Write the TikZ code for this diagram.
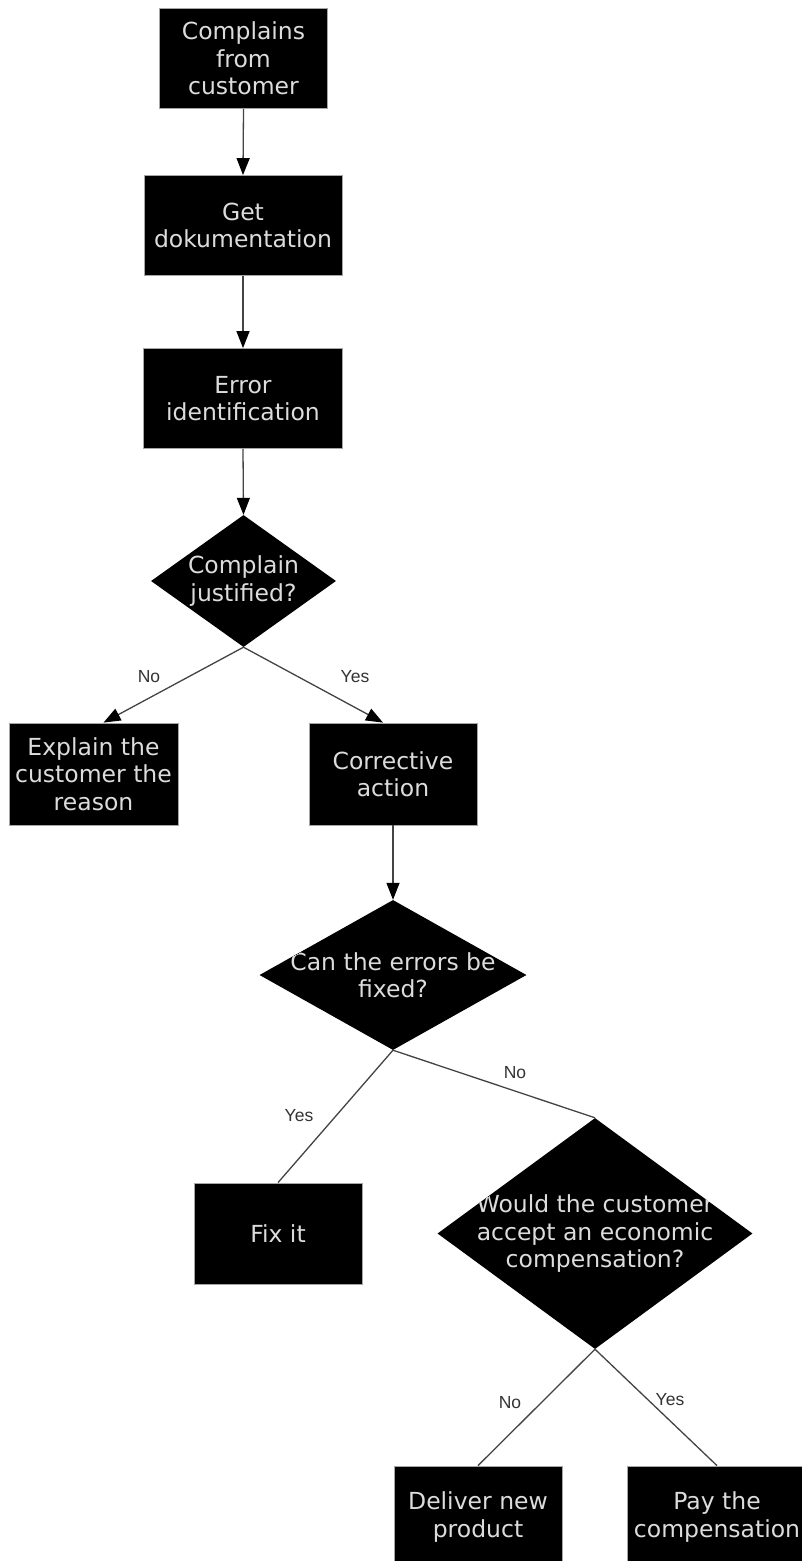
\documentclass[tikz,border=0pt]{standalone}
\usepackage{fontspec}
\setmainfont{DejaVu Sans}
\newfontfamily\labfont{Liberation Sans}
\usetikzlibrary{shapes.geometric,arrows.meta}
\definecolor{txtgray}{HTML}{DCDCDC}
\definecolor{linegray}{HTML}{444444}
\definecolor{labgray}{HTML}{333333}
\tikzset{
  boxnode/.style={draw=gray!70, line width=0.8pt, fill=black, text=txtgray, inner sep=0pt,
    align=center, font=\fontsize{23.5}{27.5}\selectfont},
  dianode/.style={shape=diamond, fill=black, inner sep=0pt},
  diatext/.style={text=txtgray, align=center, font=\fontsize{23.5}{27.5}\selectfont, inner sep=0pt},
  conn/.style={draw=linegray, line width=1.3pt},
  arr/.style={conn, -{Triangle[length=17pt,width=13pt,color=black]}},
  lab/.style={text=labgray, font=\labfont\fontsize{17.5}{20}\selectfont, inner sep=0pt}
}
\begin{document}
\begin{tikzpicture}[x=1pt,y=-1pt]
\clip (0,0) rectangle (802,1561);
\fill[white] (0,0) rectangle (802,1561);

\node[boxnode, minimum width=168pt, minimum height=100pt] (b1) at (243.5,58.5) {Complains\\from\\customer};
\node[boxnode, minimum width=198pt, minimum height=100pt] (b2) at (243,225.5) {Get\\dokumentation};
\node[boxnode, minimum width=199pt, minimum height=100pt] (b3) at (243,398.5) {Error\\identification};

\node[dianode, minimum width=185pt, minimum height=132pt,
  path picture={\node[diatext] at (path picture bounding box.center) {Complain\\justified?};}] (d1) at (243.5,581) {};

\node[boxnode, minimum width=169pt, minimum height=102pt] (b4) at (93.5,774) {Explain the\\customer the\\reason};
\node[boxnode, minimum width=168pt, minimum height=102pt] (b5) at (393,774) {Corrective\\action};

\node[dianode, minimum width=267pt, minimum height=150pt,
  path picture={\node[diatext] at (path picture bounding box.center) {Can the errors be\\fixed?};}] (d2) at (393,975) {};

\node[boxnode, minimum width=168pt, minimum height=101pt] (b6) at (278,1233.5) {Fix it};

\node[dianode, minimum width=315pt, minimum height=231pt,
  path picture={\node[diatext] at (path picture bounding box.center) {Would the customer\\accept an economic\\compensation?};}] (d3) at (595,1233.5) {};

\node[boxnode, minimum width=168pt, minimum height=102pt] (b7) at (478,1517) {Deliver new\\product};
\node[boxnode, minimum width=180pt, minimum height=102pt] (b8) at (717,1517) {Pay the\\compensation};

\draw[arr] (b1.south) -- (b2.north);
\draw[arr] (b2.south) -- (b3.north);
\draw[arr] (b3.south) -- (d1.north);
\draw[arr] (d1.south) -- ([xshift=10pt]b4.north);
\draw[arr] (d1.south) -- ([xshift=-10pt]b5.north);
\draw[arr] (b5.south) -- (d2.north);
\draw[conn] (d2.south) -- (b6.north);
\draw[conn] (d2.south) -- (d3.north);
\draw[conn] (d3.south) -- (b7.north);
\draw[conn] (d3.south) -- (b8.north);

\node[lab] (l1) at (149,677) {No};
\node[lab] (l2) at (355,677) {Yes};
\node[lab] (l3) at (299,1116) {Yes};
\node[lab] (l4) at (515,1073) {No};
\node[lab] (l5) at (510,1403) {No};
\node[lab] (l6) at (670,1400) {Yes};
\end{tikzpicture}
\end{document}
